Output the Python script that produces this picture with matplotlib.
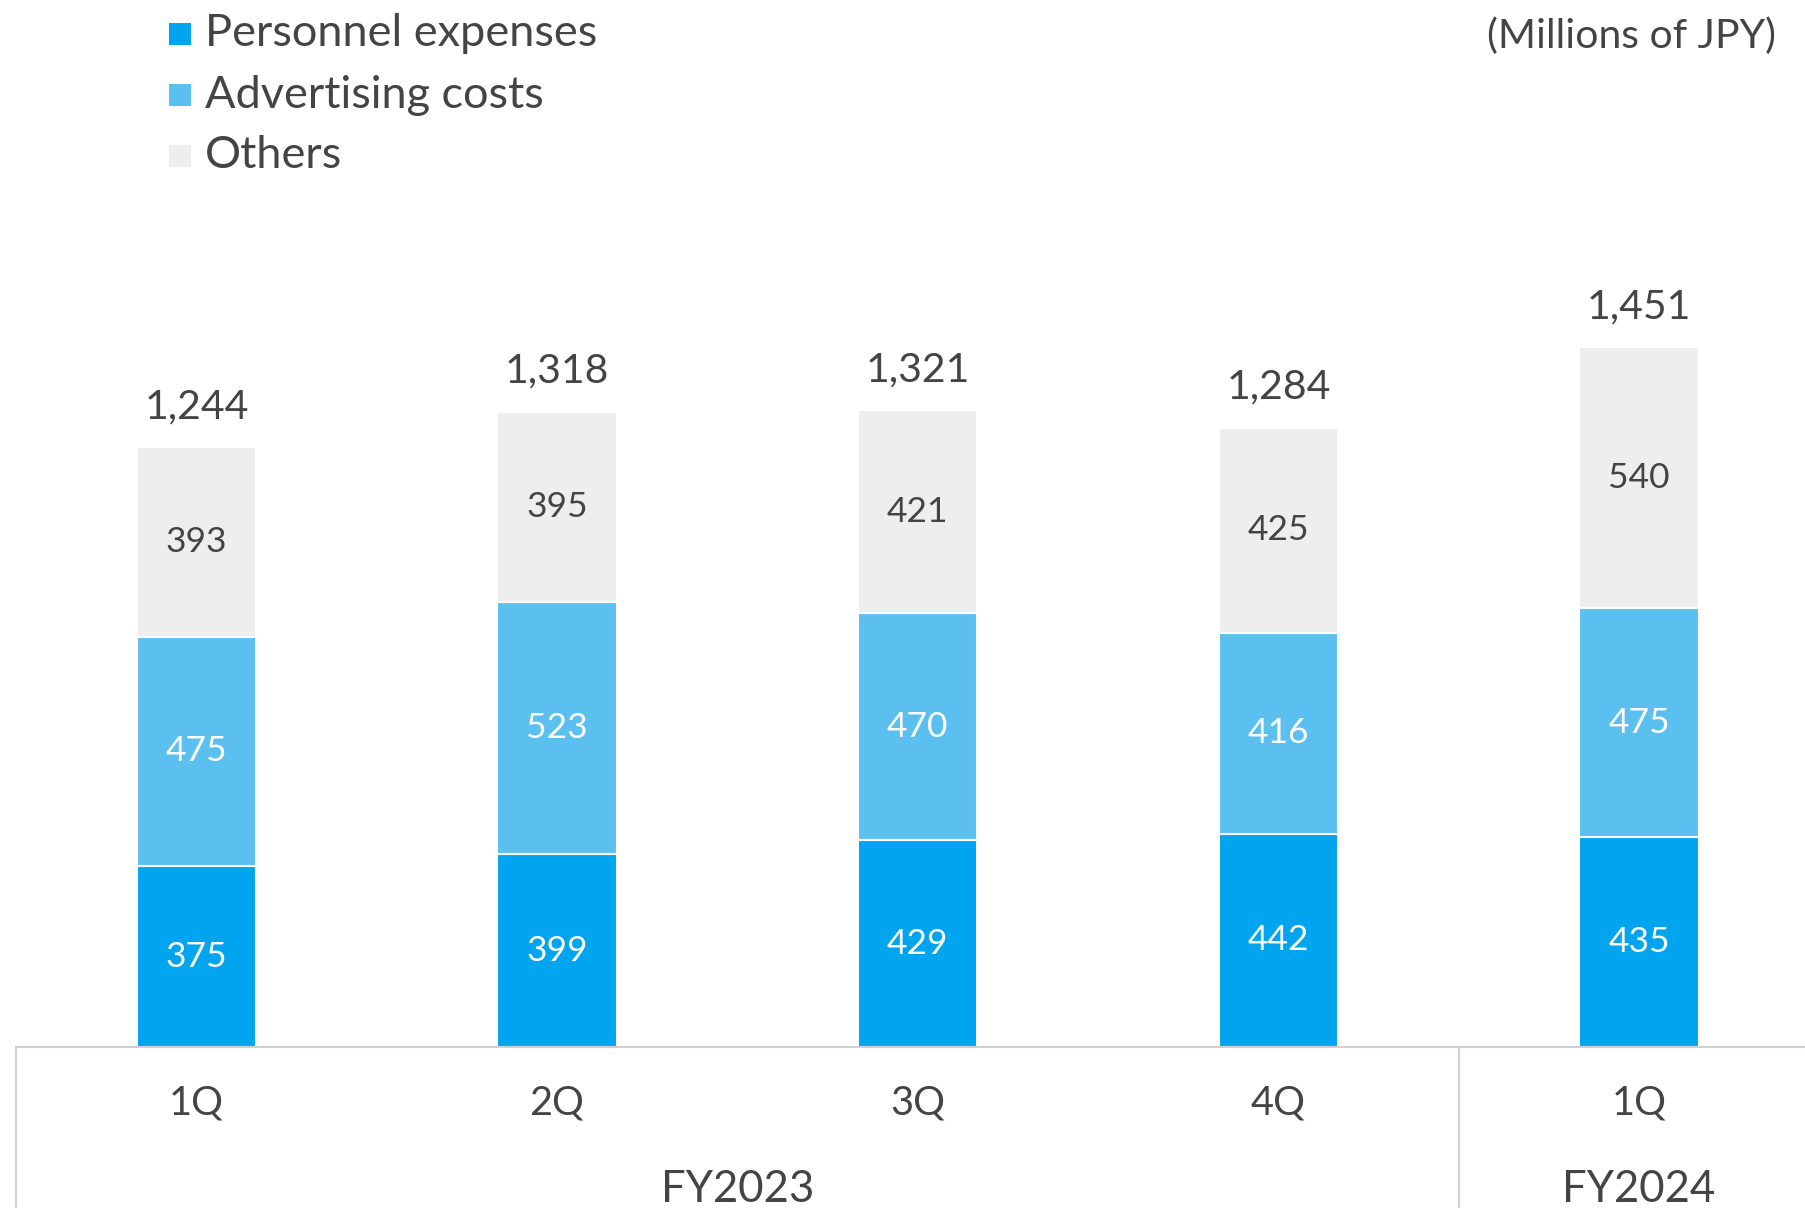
import numpy as np
import matplotlib.pyplot as plt
from matplotlib.patches import Rectangle

# data
quarters = ['1Q', '2Q', '3Q', '4Q', '1Q']
fiscal_years = ['FY2023', 'FY2024']
series_names = ['Personnel expenses', 'Advertising costs', 'Others']
personnel = [375, 399, 429, 442, 435]
advertising = [475, 523, 470, 416, 475]
others = [393, 395, 421, 425, 540]
totals = [1244, 1318, 1321, 1284, 1451]

plt.rcParams['font.family'] = ['Lato', 'DejaVu Sans']

col_personnel = '#00A4EF'
col_adv = '#5BC0F0'
col_others = '#EEEEEE'
txt_dark = '#444444'
line_col = '#D0D0D0'

fig = plt.figure(figsize=(18.06, 12.08), dpi=100, facecolor='white')
# baseline at 1047 px from the top, axes reaches the figure top
ax = fig.add_axes([16 / 1806, (1208 - 1047) / 1208, 1 - 16 / 1806, 1047 / 1208])
ax.set_xlim(-0.5, 4.463)
ax.set_ylim(0, 2170)
ax.axis('off')

x = np.arange(len(quarters))
bw = 0.33
p = np.array(personnel)
a = np.array(advertising)
o = np.array(others)

ax.bar(x, p, bw, color=col_personnel, edgecolor='white', linewidth=1.5)
ax.bar(x, a, bw, bottom=p, color=col_adv, edgecolor='white', linewidth=1.5)
ax.bar(x, o, bw, bottom=p + a, color=col_others, edgecolor='white', linewidth=1.5)

fs_seg = 25.5
for i in range(len(x)):
    ax.text(x[i], p[i] / 2, f'{p[i]}', ha='center', va='center', color='white', fontsize=fs_seg)
    ax.text(x[i], p[i] + a[i] / 2, f'{a[i]}', ha='center', va='center', color='white', fontsize=fs_seg)
    ax.text(x[i], p[i] + a[i] + o[i] / 2, f'{o[i]}', ha='center', va='center', color=txt_dark, fontsize=fs_seg)
    ax.text(x[i], totals[i] + 83, f'{totals[i]:,}', ha='center', va='center', color=txt_dark, fontsize=29.5)

# category axis lines
ax.plot([-0.5, 4.463], [0, 0], color=line_col, lw=1.5, clip_on=False)
ax.plot([-0.5, -0.5], [0, -340], color=line_col, lw=1.5, clip_on=False)
ax.plot([3.5, 3.5], [0, -340], color=line_col, lw=1.5, clip_on=False)

for i, q in enumerate(quarters):
    ax.text(x[i], -116, q, ha='center', va='center', color=txt_dark, fontsize=28.6, clip_on=False)
ax.text(1.5, -295, fiscal_years[0], ha='center', va='center', color=txt_dark, fontsize=31.5, clip_on=False)
ax.text(4.0, -295, fiscal_years[1], ha='center', va='center', color=txt_dark, fontsize=31.5, clip_on=False)

fig.text(1776 / 1806, 1 - 36 / 1208, '(Millions of JPY)', ha='right', va='center', color=txt_dark, fontsize=29.5)

# legend drawn by hand
leg_cols = [col_personnel, col_adv, col_others]
for k, (name, c) in enumerate(zip(series_names, leg_cols)):
    yc = 34 + 61 * k
    fig.patches.append(Rectangle((169 / 1806, 1 - (yc + 11) / 1208), 22 / 1806, 22 / 1208,
                                 transform=fig.transFigure, facecolor=c, edgecolor='none'))
    fig.text(205 / 1806, 1 - yc / 1208, name, ha='left', va='center', color=txt_dark, fontsize=32.5)

plt.savefig('out.png', dpi=100, facecolor='white')
plt.close()
